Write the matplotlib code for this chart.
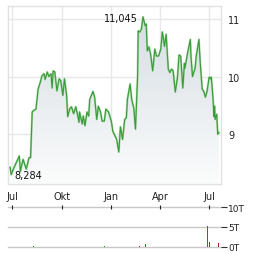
import matplotlib
matplotlib.use("Agg")
import matplotlib.pyplot as plt
import matplotlib.dates as mdates
import numpy as np
from datetime import datetime
from matplotlib.colors import LinearSegmentedColormap

dates = ["2023-06-27","2023-06-29","2023-07-03","2023-07-14","2023-07-16","2023-07-21","2023-07-27",
         "2023-08-01","2023-08-04","2023-08-07","2023-08-09","2023-08-14","2023-08-18","2023-08-22",
         "2023-08-25","2023-08-29","2023-08-31","2023-09-04","2023-09-07","2023-09-11","2023-09-13",
         "2023-09-15","2023-09-18","2023-09-22","2023-09-26","2023-09-29","2023-10-03","2023-10-06",
         "2023-10-10","2023-10-12","2023-10-16","2023-10-19","2023-10-23","2023-10-27","2023-10-31",
         "2023-11-02","2023-11-03","2023-11-08","2023-11-10","2023-11-13","2023-11-17","2023-11-20",
         "2023-11-22","2023-11-28","2023-12-01","2023-12-05","2023-12-08","2023-12-12","2023-12-15",
         "2023-12-19","2023-12-22","2023-12-27","2024-01-01","2024-01-04","2024-01-08","2024-01-11",
         "2024-01-15","2024-01-18","2024-01-22","2024-01-26","2024-01-29","2024-01-31","2024-02-05",
         "2024-02-08","2024-02-12","2024-02-15","2024-02-19","2024-02-20","2024-02-23","2024-02-26",
         "2024-02-29","2024-03-04","2024-03-06","2024-03-08","2024-03-11","2024-03-14","2024-03-18",
         "2024-03-22","2024-03-25","2024-03-29","2024-04-02","2024-04-05","2024-04-09","2024-04-12",
         "2024-04-16","2024-04-19","2024-04-22","2024-04-25","2024-04-29","2024-05-03","2024-05-06",
         "2024-05-09","2024-05-13","2024-05-16","2024-05-17","2024-05-22","2024-05-27","2024-05-28",
         "2024-05-31","2024-06-05","2024-06-07","2024-06-12","2024-06-14","2024-06-18","2024-06-21",
         "2024-06-24","2024-06-27","2024-07-01","2024-07-03","2024-07-05","2024-07-08","2024-07-10",
         "2024-07-11","2024-07-12","2024-07-15","2024-07-17","2024-07-19"]
prices = [8.41,8.284,8.38,8.61,8.34,8.55,8.38,
          8.58,8.58,9.38,9.40,9.43,9.78,9.90,
          10.01,10.05,9.95,10.08,10.00,10.05,9.80,
          10.10,10.08,9.75,9.96,9.93,9.67,9.96,
          9.67,9.30,9.44,9.47,9.35,9.47,9.30,
          9.20,9.38,9.17,9.31,9.14,9.38,9.31,
          9.60,9.74,9.64,9.25,9.48,9.38,9.22,
          9.22,9.43,9.38,9.22,9.04,8.96,8.90,
          8.68,9.12,8.90,9.25,9.28,9.60,9.87,
          9.60,9.44,9.08,10.02,10.80,10.78,10.83,
          11.045,10.89,10.92,10.45,10.52,10.40,10.10,
          10.48,10.36,10.36,10.48,10.78,10.53,10.74,
          10.13,10.07,10.13,10.10,9.73,9.98,10.38,
          10.36,9.80,10.23,10.15,10.42,10.65,10.38,
          10.00,10.15,10.36,10.65,10.30,9.78,9.74,
          9.64,9.74,9.99,9.96,9.99,9.64,9.30,
          9.48,9.25,9.34,8.99,9.02]

vol_dates = ["2023-08-09","2023-12-19","2024-02-22","2024-03-04","2024-06-28","2024-07-01","2024-07-19"]
vol_values = [0.2,0.2,0.2,0.6,5.3,1.2,0.8]
vol_colors = ["#1a8a1a","#1a8a1a","#aa2222","#1a8a1a","#1a8a1a","#aa2222","#aa2222"]

tick_dates = ["2023-07-01","2023-10-01","2024-01-01","2024-04-01","2024-07-01"]
tick_labels = ["Jul","Okt","Jan","Apr","Jul"]
y_ticks = [9,10,11]
y_labels = ["9","10","11"]
vol_ticks = [0,5,10]
vol_labels = ["0T","5T","10T"]

plt.rcParams['font.family'] = ['DejaVu Sans']

d = [datetime.strptime(s, "%Y-%m-%d") for s in dates]
x = mdates.date2num(d)
p = np.array(prices)
xt = mdates.date2num([datetime.strptime(s, "%Y-%m-%d") for s in tick_dates])
xv = mdates.date2num([datetime.strptime(s, "%Y-%m-%d") for s in vol_dates])

W, H = 264, 255
fig = plt.figure(figsize=(W/100, H/100), dpi=100)

xmin = mdates.date2num(datetime(2023, 6, 23))
xmax = mdates.date2num(datetime(2024, 7, 23))
ymin, ymax = 8.119, 11.236

ax = fig.add_axes([8/W, 1-185/H, 213/W, 178/H])
ax.set_xlim(xmin, xmax)
ax.set_ylim(ymin, ymax)

grad = np.linspace(0, 1, 256).reshape(-1, 1)
cmap = LinearSegmentedColormap.from_list("g", ["#fbfcfc", "#d6dde3"])
poly = ax.fill_between(x, p, ymin, color="none", lw=0)
img = ax.imshow(grad, extent=[xmin, xmax, ymin, 11.05], origin="lower", cmap=cmap,
                aspect="auto", zorder=1)
img.set_clip_path(poly.get_paths()[0], transform=ax.transData)

ax.plot(x, p, color="#a8d8a8", lw=1.5, zorder=3, solid_joinstyle="round")
ax.plot(x, p, color="#3a9a3a", lw=0.8, zorder=4, solid_joinstyle="round")

ax.set_xticks(xt)
ax.set_xticklabels(tick_labels)
ax.set_yticks(y_ticks)
ax.set_yticklabels(y_labels)
ax.yaxis.tick_right()
ax.tick_params(axis="both", length=0, labelsize=7, colors="#222222")
ax.tick_params(axis="x", pad=5)
ax.tick_params(axis="y", pad=5)
ax.grid(True, color="#e8e8e8", lw=1)
ax.set_axisbelow(True)
for s in ax.spines.values():
    s.set_color("#e2e2e2")
    s.set_linewidth(1)

imax = int(np.argmax(p))
imin = int(np.argmin(p))
ax.annotate("11,045", xy=(x[imax], p[imax]), xytext=(-3.5, -0.5), textcoords="offset points",
            ha="right", va="center", fontsize=7, color="#111111", zorder=5)
ax.annotate("8,284", xy=(x[imin], p[imin]), xytext=(2.5, 0), textcoords="offset points",
            ha="left", va="center", fontsize=7, color="#111111", zorder=5)

av = fig.add_axes([8/W, 1-247.5/H, 213/W, 39.2/H])
av.set_xlim(xmin, xmax)
av.set_ylim(0, 10)
av.bar(xv, vol_values, width=1.8, color=vol_colors, zorder=3, linewidth=0)
for v in vol_ticks:
    av.axhline(v, color="#c8c8c8", lw=1, zorder=1, clip_on=False)
for s in av.spines.values():
    s.set_visible(False)
av.set_yticks(vol_ticks)
av.set_yticklabels(vol_labels)
av.yaxis.tick_right()
av.tick_params(axis="y", length=4, width=0.8, color="#333333", pad=1, labelsize=6.5, labelcolor="#222222")
av.set_xticks(xt)
av.tick_params(axis="x", top=True, bottom=False, labeltop=False, labelbottom=False,
               direction="inout", length=3, width=0.8, color="#222222")
av.patch.set_alpha(0)

fig.savefig("out.png", dpi=100)
